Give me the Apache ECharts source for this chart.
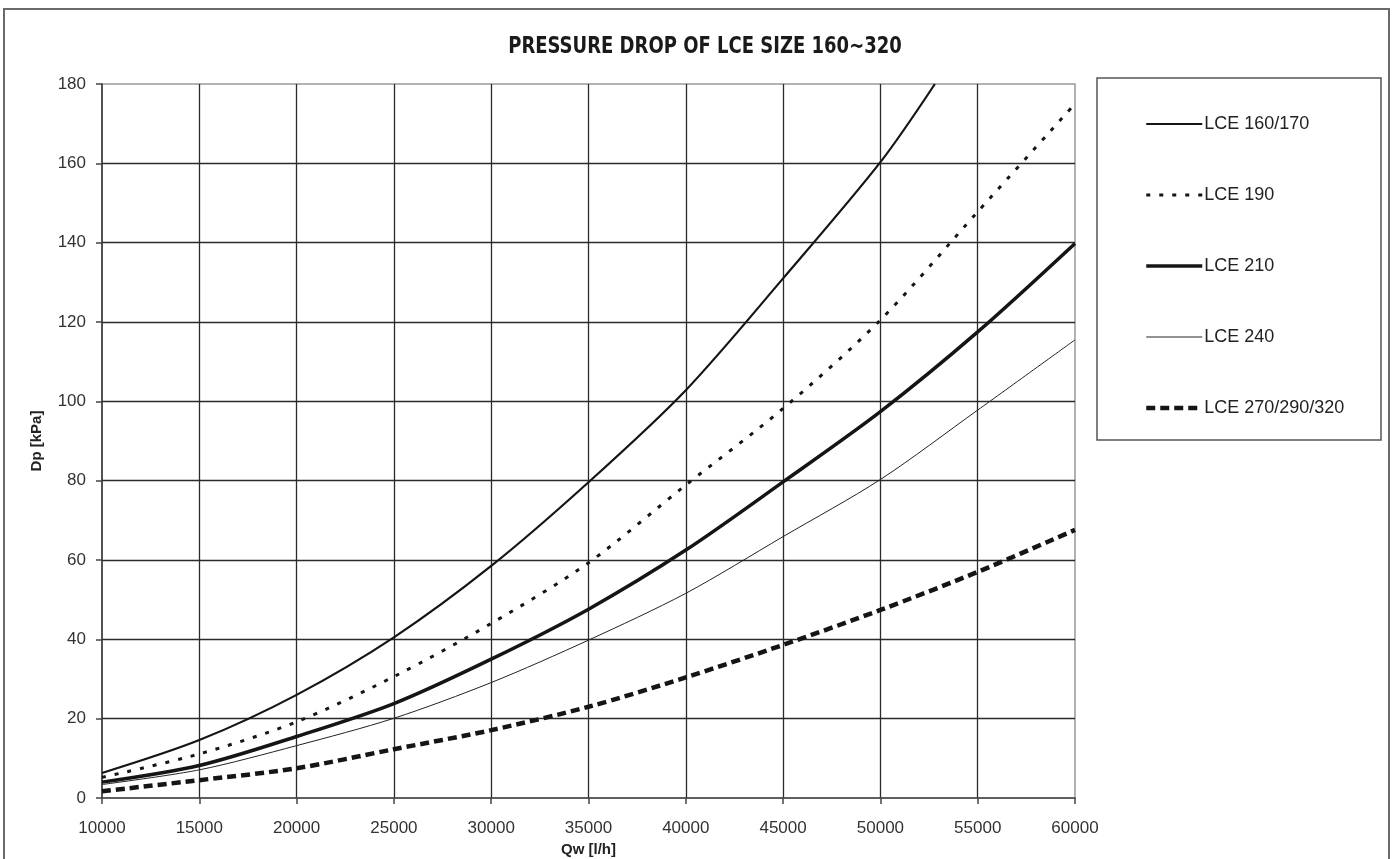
<!DOCTYPE html>
<html>
<head>
<meta charset="utf-8">
<script src="https://cdn.jsdelivr.net/npm/echarts@6/dist/echarts.min.js"></script>
<style>
html,body{margin:0;padding:0;background:#fff;}
#chart{width:1394px;height:859px;}
</style>
</head>
<body>
<div id="chart"></div>
<script>
// ---- data ----
var titleText = 'PRESSURE DROP OF LCE SIZE 160\u223C320';
var xName = 'Qw [l/h]';
var yName = 'Dp [kPa]';
var seriesNames = ['LCE 160/170', 'LCE 190', 'LCE 210', 'LCE 240', 'LCE 270/290/320'];
var qw = [10000, 15000, 20000, 25000, 30000, 35000, 40000, 45000, 50000, 55000, 60000];
var q160 = [10000, 15000, 20000, 25000, 30000, 35000, 40000, 45000, 50000, 52800];
var lce160 = [6.3, 14.6, 26, 40.5, 58.5, 79.6, 102.8, 131, 160.3, 180];
var lce190 = [5.2, 11.1, 19.2, 30.6, 44, 59.3, 78.9, 98.2, 120.5, 147.8, 175];
var lce210 = [4.0, 8.2, 15.5, 23.8, 35, 47.6, 62.5, 79.7, 97.4, 117.5, 139.8];
var lce240 = [3.4, 7.1, 13.2, 20.1, 29.1, 39.8, 51.6, 65.9, 80.3, 97.8, 115.5];
var lce270 = [1.7, 4.5, 7.5, 12.3, 17.1, 23, 30.4, 38.6, 47.4, 57, 67.6];

function pairs(xs, ys) { return xs.map(function (x, i) { return [x, ys[i]]; }); }

var chart = echarts.init(document.getElementById('chart'), null, {renderer: 'canvas'});
var font = "'Liberation Sans', Arial, sans-serif";
var lineColor = '#151515';
var option = {
  animation: false,
  backgroundColor: '#fff',
  textStyle: {fontFamily: font},
  graphic: [
    {type: 'rect', shape: {x: 4, y: 9, width: 1385, height: 880}, style: {fill: 'none', stroke: '#6a6a6a', lineWidth: 2}, z: -1},
    {type: 'rect', shape: {x: 1097, y: 78, width: 284, height: 362}, style: {fill: '#fff', stroke: '#555', lineWidth: 1.5}, z: 0},
    {type: 'text', x: 705, y: 47, scaleX: 0.87, style: {text: titleText, fill: '#1a1a1a', font: "bold 23px 'DejaVu Sans Condensed', 'Liberation Sans Narrow', sans-serif", textAlign: 'center', textVerticalAlign: 'middle'}, z: 10}
  ],
  grid: {left: 102, right: 319, top: 84, bottom: 61, outerBoundsMode: 'none', containLabel: false,
         show: true, borderColor: '#999', borderWidth: 1.5, backgroundColor: 'transparent'},
  legend: {
    orient: 'vertical', left: 1139, top: 110,
    itemWidth: 56, itemHeight: 18, itemGap: 53,
    itemStyle: {opacity: 0},
    lineStyle: {width: 'inherit'},
    textStyle: {fontSize: 18, color: '#222', fontFamily: font, padding: [0, 0, 0, -3]},
    data: seriesNames,
    selectedMode: false
  },
  xAxis: {
    type: 'value', min: 10000, max: 60000, interval: 5000,
    name: xName, nameLocation: 'middle', nameGap: 44,
    nameTextStyle: {fontWeight: 'bold', fontSize: 15, color: '#222', fontFamily: font},
    axisLine: {show: true, lineStyle: {color: '#444', width: 1.5}},
    axisTick: {show: true, length: 6, lineStyle: {color: '#444', width: 1.5}},
    axisLabel: {fontSize: 17, color: '#333', margin: 22, formatter: function (v) { return String(v); }},
    splitLine: {show: true, showMinLine: false, showMaxLine: false, lineStyle: {color: '#2a2a2a', width: 1.3}}
  },
  yAxis: {
    type: 'value', min: 0, max: 180, interval: 20,
    name: yName, nameLocation: 'middle', nameGap: 58, nameRotate: 90,
    nameTextStyle: {fontWeight: 'bold', fontSize: 15, color: '#222', fontFamily: font},
    axisLine: {show: true, lineStyle: {color: '#333', width: 1.5}},
    axisTick: {show: true, length: 6, lineStyle: {color: '#444', width: 1.5}},
    axisLabel: {fontSize: 17, color: '#333', margin: 16},
    splitLine: {show: true, showMinLine: false, showMaxLine: false, lineStyle: {color: '#2a2a2a', width: 1.3}}
  },
  series: [
    {name: seriesNames[0], type: 'line', data: pairs(q160, lce160), smooth: 0.3, symbol: 'none',
     lineStyle: {color: lineColor, width: 2.2, type: 'solid'}, itemStyle: {color: lineColor}, z: 5},
    {name: seriesNames[1], type: 'line', data: pairs(qw, lce190), smooth: 0.3, symbol: 'none',
     lineStyle: {color: lineColor, width: 3, type: [4, 9]}, itemStyle: {color: lineColor}, z: 5},
    {name: seriesNames[2], type: 'line', data: pairs(qw, lce210), smooth: 0.3, symbol: 'none',
     lineStyle: {color: lineColor, width: 3.5, type: 'solid'}, itemStyle: {color: lineColor}, z: 5},
    {name: seriesNames[3], type: 'line', data: pairs(qw, lce240), smooth: 0.3, symbol: 'none',
     lineStyle: {color: '#222', width: 1, type: 'solid'}, itemStyle: {color: '#222'}, z: 5},
    {name: seriesNames[4], type: 'line', data: pairs(qw, lce270), smooth: 0.3, symbol: 'none',
     lineStyle: {color: lineColor, width: 4.5, type: [9, 5]}, itemStyle: {color: lineColor}, z: 5}
  ]
};
chart.setOption(option);
</script>
</body>
</html>
